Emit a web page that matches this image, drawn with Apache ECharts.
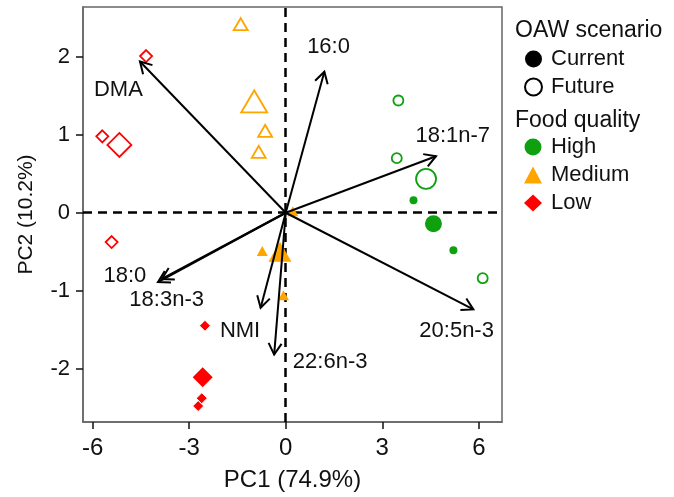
<!DOCTYPE html>
<html>
<head>
<meta charset="utf-8">
<script src="https://cdn.jsdelivr.net/npm/echarts@6/dist/echarts.min.js"></script>
<style>html,body{margin:0;padding:0;background:#fff}#c{width:674px;height:497px}</style>
</head>
<body>
<div id="c"></div>
<script>
// ---- data (PC1, PC2) ----
var xTicks = [-6, -3, 0, 3, 6];
var yTicks = [-2, -1, 0, 1, 2];

var highCurrent = [[3.97, 0.16], [5.21, -0.48]];
var highCurrentMean = [[4.59, -0.14]];
var highFuture = [[3.50, 1.44], [3.45, 0.70], [6.12, -0.84]];
var highFutureMean = [[4.36, 0.435]];
var mediumCurrent = [[0.22, 0.02], [-0.73, -0.49], [-0.07, -1.06]];
var mediumCurrentMean = [[-0.18, -0.50]];
var mediumFuture = [[-1.40, 2.42], [-0.64, 1.05], [-0.84, 0.78]];
var mediumFutureMean = [[-0.98, 1.43]];
var lowCurrent = [[-2.51, -1.45], [-2.72, -2.48], [-2.61, -2.38]];
var lowCurrentMean = [[-2.58, -2.11]];
var lowFuture = [[-4.34, 2.01], [-5.70, 0.98], [-5.41, -0.376]];
var lowFutureMean = [[-5.17, 0.87]];

var arrowNames = ['DMA', '16:0', '18:1n-7', '20:5n-3', '22:6n-3', 'NMI', '18:0', '18:3n-3'];
var arrowX = [-4.53, 1.20, 4.67, 5.83, -0.36, -0.78, -3.97, -3.85];
var arrowY = [1.94, 1.81, 0.725, -1.24, -1.82, -1.22, -0.89, -0.85];
var labelX = [-5.20, 1.33, 5.19, 5.31, 1.38, -1.42, -5.00, -3.70];
var labelY = [1.58, 2.13, 0.98, -1.52, -1.92, -1.52, -0.81, -1.12];

var GREEN = '#0ea00e', ORANGE = '#ffa500', RED = '#ff0000';
var FONT = 'Liberation Sans, Arial, sans-serif';

var arrowData = arrowNames.map(function (n, i) {
  return { name: n, value: [arrowX[i], arrowY[i], labelX[i], labelY[i]] };
});

function filled(name, data, sym, size, color, border) {
  return { name: name, type: 'scatter', data: data, symbol: sym, symbolSize: size, silent: true,
    itemStyle: { color: color, borderColor: border ? '#fff' : color, borderWidth: border ? 1 : 0, opacity: 1 }, z: 3 };
}
function open(name, data, sym, size, color) {
  return { name: name, type: 'scatter', data: data, symbol: sym, symbolSize: size, silent: true,
    itemStyle: { color: 'rgba(0,0,0,0)', borderColor: color, borderWidth: 1.8, opacity: 1 }, z: 3 };
}
function dummy(name, sym, color, border) {
  return { name: name, type: 'scatter', data: [], symbol: sym,
    itemStyle: { color: color, borderColor: border || color, borderWidth: border ? 2 : 0, opacity: 1 } };
}

var chart = echarts.init(document.getElementById('c'), null, { renderer: 'canvas' });
chart.setOption({
  animation: false,
  backgroundColor: '#fff',
  title: [
    { text: 'OAW scenario', left: 515, top: 19, textStyle: { fontFamily: FONT, fontSize: 23, fontWeight: 'normal', color: '#111' }, padding: 0 },
    { text: 'Food quality', left: 515, top: 109, textStyle: { fontFamily: FONT, fontSize: 23, fontWeight: 'normal', color: '#111' }, padding: 0 }
  ],
  legend: [
    { orient: 'vertical', left: 524, top: 45, itemWidth: 17, itemHeight: 17, itemGap: 0, padding: 0, selectedMode: false,
      textStyle: { fontFamily: FONT, fontSize: 22, color: '#111', lineHeight: 28, padding: [0, 0, 0, 4] },
      data: [
        { name: 'Current', icon: 'circle', itemStyle: { color: '#000', borderColor: '#000', borderWidth: 0, opacity: 1 } },
        { name: 'Future', icon: 'circle', itemStyle: { color: '#fff', borderColor: '#000', borderWidth: 2, opacity: 1 } }
      ] },
    { orient: 'vertical', left: 524, top: 133, itemWidth: 18, itemHeight: 17, itemGap: 0, padding: 0, selectedMode: false,
      textStyle: { fontFamily: FONT, fontSize: 22, color: '#111', lineHeight: 28, padding: [0, 0, 0, 4] },
      data: [
        { name: 'High', icon: 'circle', itemStyle: { color: GREEN, borderColor: GREEN, borderWidth: 0, opacity: 1 } },
        { name: 'Medium', icon: 'triangle', itemStyle: { color: ORANGE, borderColor: ORANGE, borderWidth: 0, opacity: 1 } },
        { name: 'Low', icon: 'diamond', itemStyle: { color: RED, borderColor: RED, borderWidth: 0, opacity: 1 } }
      ] }
  ],
  grid: { left: 83, right: 172, top: 7, bottom: 74, show: true, borderColor: '#666', borderWidth: 1.5, backgroundColor: 'transparent' },
  xAxis: {
    type: 'value', min: -6.3, max: 6.72, position: 'bottom',
    name: 'PC1 (74.9%)', nameLocation: 'middle', nameGap: 46,
    nameTextStyle: { fontFamily: FONT, fontSize: 24, color: '#111' },
    axisLine: { show: true, onZero: false, lineStyle: { color: '#666', width: 1.5 } },
    axisTick: { show: true, inside: false, customValues: xTicks, length: 7, lineStyle: { color: '#111', width: 1.5 } },
    axisLabel: { customValues: xTicks, inside: false, fontFamily: FONT, fontSize: 24, color: '#111', margin: 14 },
    splitLine: { show: false }
  },
  yAxis: {
    type: 'value', min: -2.685, max: 2.64, position: 'left',
    name: 'PC2 (10.2%)', nameLocation: 'middle', nameGap: 46, nameRotate: 90,
    nameTextStyle: { fontFamily: FONT, fontSize: 21, color: '#111' },
    axisLine: { show: true, onZero: false, lineStyle: { color: '#666', width: 1.5 } },
    axisTick: { show: true, inside: false, customValues: yTicks, length: 7, lineStyle: { color: '#111', width: 1.5 } },
    axisLabel: { customValues: yTicks, inside: false, fontFamily: FONT, fontSize: 22, color: '#111', margin: 13 },
    splitLine: { show: false }
  },
  series: [
    dummy('Current', 'circle', '#000'),
    dummy('Future', 'circle', '#fff', '#000'),
    dummy('High', 'circle', GREEN),
    dummy('Medium', 'triangle', ORANGE),
    dummy('Low', 'diamond', RED),
    {
      name: 'zero', type: 'scatter', data: [], silent: true, z: 1,
      markLine: { silent: true, symbol: ['none', 'none'], label: { show: false }, animation: false, z: 1,
        lineStyle: { type: [9, 6], color: '#000', width: 2.5 },
        data: [{ xAxis: 0 }, { yAxis: 0 }] }
    },
    filled('hc', highCurrent, 'circle', 8, GREEN),
    filled('hcm', highCurrentMean, 'circle', 17, GREEN),
    open('hf', highFuture, 'circle', 10, GREEN),
    open('hfm', highFutureMean, 'circle', 20, GREEN),
    filled('mc', mediumCurrent, 'triangle', [11, 10], ORANGE),
    filled('mcm', mediumCurrentMean, 'triangle', [23, 20], ORANGE),
    open('mf', mediumFuture, 'triangle', [14, 12], ORANGE),
    open('mfm', mediumFutureMean, 'triangle', [26, 22], ORANGE),
    filled('lc', lowCurrent, 'diamond', 11, RED, true),
    filled('lcm', lowCurrentMean, 'diamond', 20, RED),
    open('lf', lowFuture, 'diamond', 12, RED),
    open('lfm', lowFutureMean, 'diamond', 24, RED),
    {
      name: 'loadings', type: 'custom', data: arrowData, silent: true, z: 5,
      encode: { x: 0, y: 1 },
      renderItem: function (params, api) {
        var o = api.coord([0, 0]);
        var t = api.coord([api.value(0), api.value(1)]);
        var lc = api.coord([api.value(2), api.value(3)]);
        var ang = Math.atan2(t[1] - o[1], t[0] - o[0]);
        var L = 13, a = Math.PI / 6;
        var p1 = [t[0] - L * Math.cos(ang - a), t[1] - L * Math.sin(ang - a)];
        var p2 = [t[0] - L * Math.cos(ang + a), t[1] - L * Math.sin(ang + a)];
        var name = arrowNames[params.dataIndex];
        return {
          type: 'group',
          children: [
            { type: 'line', shape: { x1: o[0], y1: o[1], x2: t[0], y2: t[1] }, style: { stroke: '#000', lineWidth: 2 } },
            { type: 'polyline', shape: { points: [p1, t, p2] }, style: { stroke: '#000', lineWidth: 2, fill: null } },
            { type: 'text', x: lc[0], y: lc[1], style: { text: name, fill: '#111', fontSize: 22, fontFamily: FONT,
              align: 'center', verticalAlign: 'middle', textAlign: 'center', textVerticalAlign: 'middle' } }
          ]
        };
      }
    }
  ]
});
</script>
</body>
</html>
